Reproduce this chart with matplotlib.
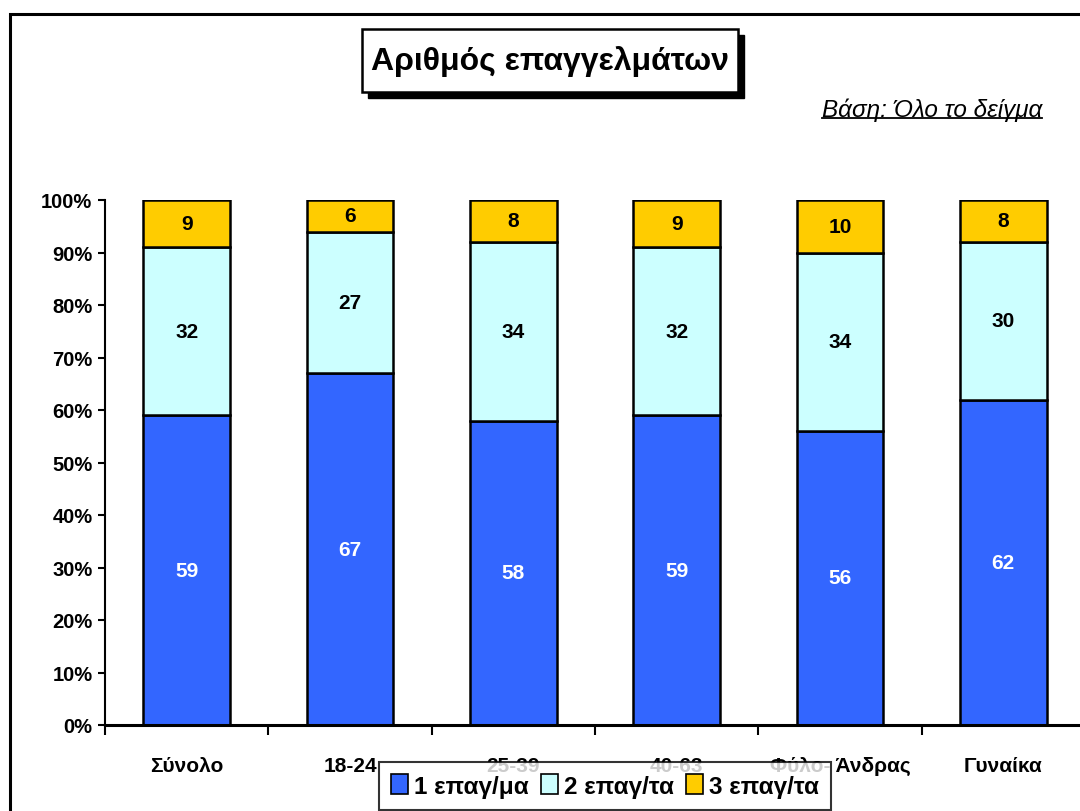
import numpy as np
import matplotlib.pyplot as plt
from matplotlib.patches import Rectangle
from matplotlib.lines import Line2D

plt.rcParams['font.family'] = ['Liberation Sans', 'DejaVu Sans']

categories = ["Σύνολο", "18-24", "25-39", "40-63", "Φύλο- Άνδρας", "Γυναίκα"]
series_names = ["1 επαγ/μα", "2 επαγ/τα", "3 επαγ/τα"]
one_job = [59, 67, 58, 59, 56, 62]
two_jobs = [32, 27, 34, 32, 34, 30]
three_jobs = [9, 6, 8, 9, 10, 8]
colors = ["#3366FF", "#CCFFFF", "#FFCC00"]
label_colors = ["white", "black", "black"]

W, H = 1080, 812
fig = plt.figure(figsize=(W / 100, H / 100), dpi=100)

# outer chart frame
fig.patches.append(Rectangle((10 / W, -0.05), 1.1, 1 - 15 / H + 0.05,
                             transform=fig.transFigure, fill=False,
                             edgecolor="black", linewidth=2.2))

ax = fig.add_axes([105 / W, 1 - 726 / H, 980 / W, 525 / H])

x = np.arange(len(categories))
series = [one_job, two_jobs, three_jobs]
bottom = np.zeros(len(categories))
for vals, name, col, lc in zip(series, series_names, colors, label_colors):
    vals = np.array(vals, dtype=float)
    ax.bar(x, vals, 0.53, bottom=bottom, color=col, edgecolor="black",
           linewidth=1.8, label=name)
    for xi, b, v in zip(x, bottom, vals):
        ax.text(xi, b + v / 2, f"{int(v)}", ha="center", va="center",
                fontsize=15, fontweight="bold", color=lc)
    bottom += vals

ax.set_xlim(-0.5, len(categories) - 0.5)
ax.set_ylim(0, 100)
ax.set_yticks(np.arange(0, 101, 10))
ax.set_yticklabels([f"{v}%" for v in range(0, 101, 10)])
ax.set_xticks(x)
ax.set_xticklabels(categories)
ax.set_xticks(np.arange(-0.5, len(categories), 1), minor=True)
ax.tick_params(axis="x", which="major", length=0, pad=22)
ax.tick_params(axis="x", which="minor", length=7, width=1.5, direction="out")
ax.tick_params(axis="y", length=5, width=1.5, direction="out", pad=4)
for lab in ax.get_xticklabels():
    lab.set_fontweight("bold")
    lab.set_fontsize(15)
for lab in ax.get_yticklabels():
    lab.set_fontweight("bold")
    lab.set_fontsize(14.5)
for s in ["top", "right"]:
    ax.spines[s].set_visible(False)
ax.spines["left"].set_linewidth(1.5)
ax.spines["bottom"].set_linewidth(2.2)
ax.spines["bottom"].set_zorder(5)

leg = fig.legend(loc="upper center", bbox_to_anchor=(605 / W, 1 - 763 / H),
                 ncol=3, frameon=True, fancybox=False, edgecolor="black",
                 prop={"weight": "bold", "size": 17.5}, handlelength=0.7,
                 handleheight=0.9, handletextpad=0.25, columnspacing=0.5,
                 borderpad=0.5, borderaxespad=0)
leg.get_frame().set_linewidth(1.5)
for h in leg.legend_handles:
    h.set_linewidth(1.2)

# title box with shadow
bx0, by0, bx1, by1 = 362, 30, 738, 93
fig.patches.append(Rectangle(((bx0 + 6) / W, 1 - (by1 + 6) / H),
                             (bx1 - bx0) / W, (by1 - by0) / H,
                             transform=fig.transFigure, facecolor="black",
                             edgecolor="black", zorder=1))
fig.patches.append(Rectangle((bx0 / W, 1 - by1 / H), (bx1 - bx0) / W,
                             (by1 - by0) / H, transform=fig.transFigure,
                             facecolor="white", edgecolor="black",
                             linewidth=1.8, zorder=2))
fig.text((bx0 + bx1) / 2 / W, 1 - (by0 + by1) / 2 / H, "Αριθμός επαγγελμάτων",
         ha="center", va="center", fontsize=23, fontweight="bold", zorder=3)

sub = fig.text(1042 / W, 1 - 110 / H, "Βάση: Όλο το δείγμα", ha="right",
               va="center", fontsize=17.5, style="italic")
fig.canvas.draw()
bb = sub.get_window_extent().transformed(fig.transFigure.inverted())
fig.lines.append(Line2D([bb.x0, bb.x1], [bb.y0 + 0.003, bb.y0 + 0.003],
                        transform=fig.transFigure, color="black", linewidth=1.3))

fig.savefig("out.png", dpi=100)
